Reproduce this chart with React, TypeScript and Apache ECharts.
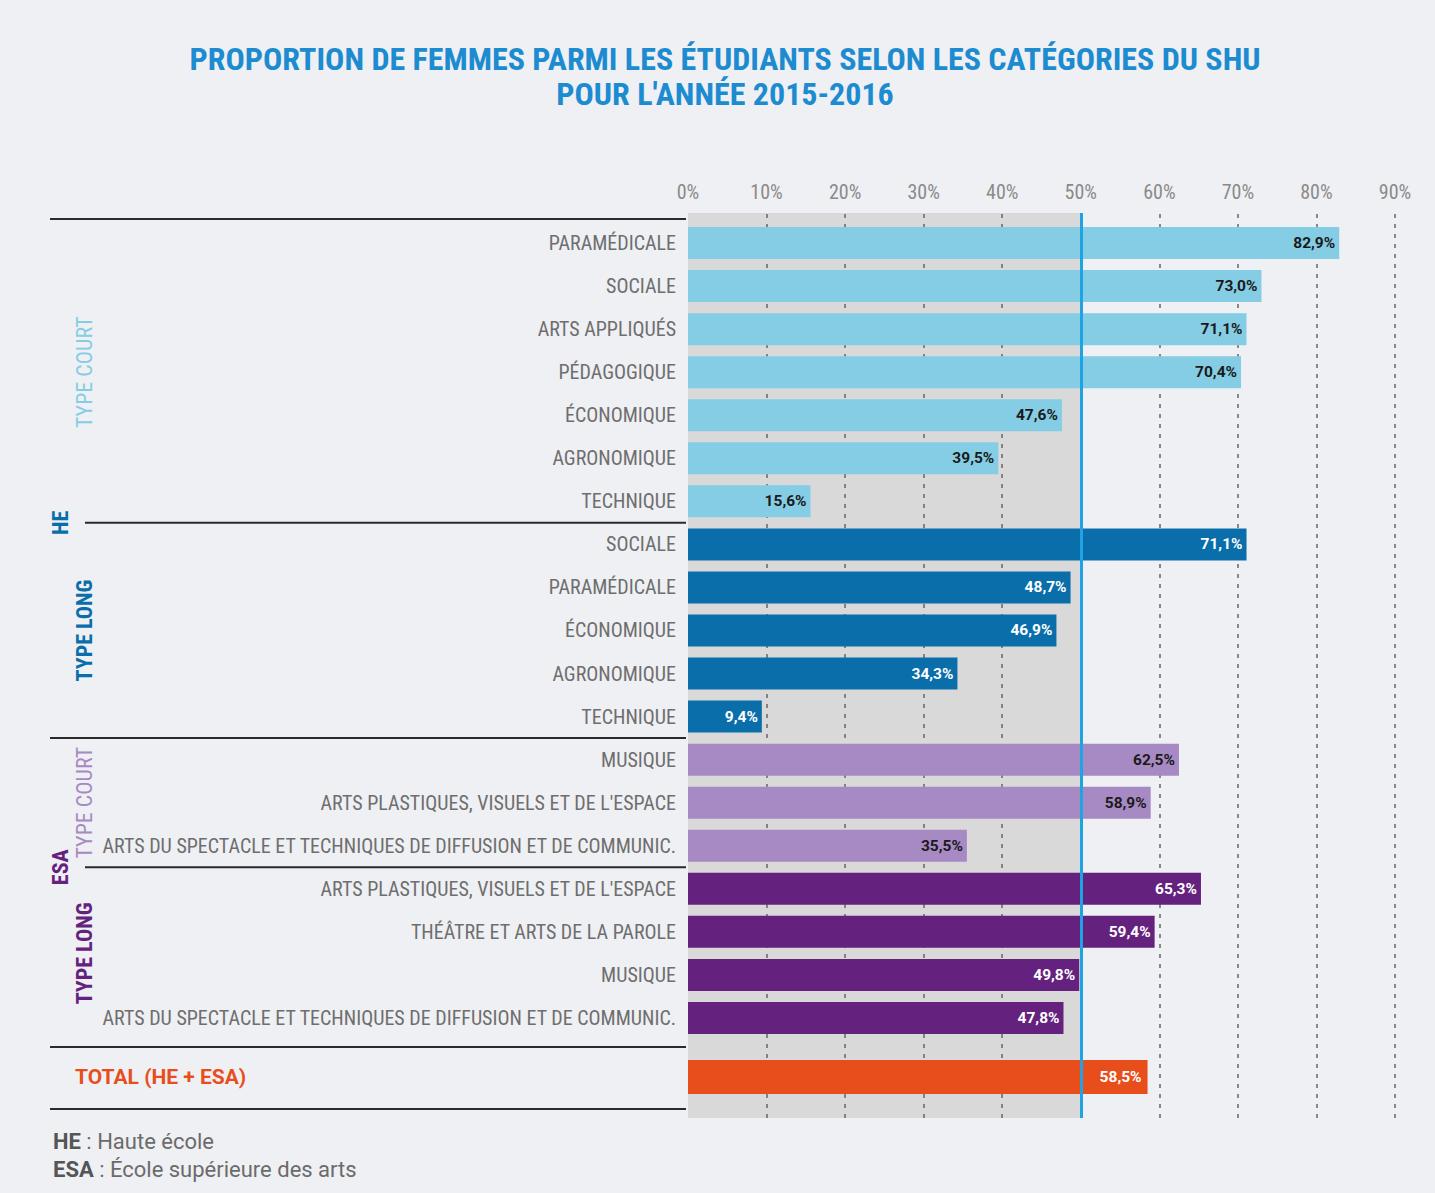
import React, { useEffect, useRef } from "react";
import * as echarts from "echarts";

// ---------- DATA ----------
const heCourtCats = ["PARAMÉDICALE", "SOCIALE", "ARTS APPLIQUÉS", "PÉDAGOGIQUE", "ÉCONOMIQUE", "AGRONOMIQUE", "TECHNIQUE"];
const heCourtVals = [82.9, 73.0, 71.1, 70.4, 47.6, 39.5, 15.6];
const heLongCats = ["SOCIALE", "PARAMÉDICALE", "ÉCONOMIQUE", "AGRONOMIQUE", "TECHNIQUE"];
const heLongVals = [71.1, 48.7, 46.9, 34.3, 9.4];
const esaCourtCats = ["MUSIQUE", "ARTS PLASTIQUES, VISUELS ET DE L'ESPACE", "ARTS DU SPECTACLE ET TECHNIQUES DE DIFFUSION ET DE COMMUNIC."];
const esaCourtVals = [62.5, 58.9, 35.5];
const esaLongCats = ["ARTS PLASTIQUES, VISUELS ET DE L'ESPACE", "THÉÂTRE ET ARTS DE LA PAROLE", "MUSIQUE", "ARTS DU SPECTACLE ET TECHNIQUES DE DIFFUSION ET DE COMMUNIC."];
const esaLongVals = [65.3, 59.4, 49.8, 47.8];
const totalCats = ["TOTAL (HE + ESA)"];
const totalVals = [58.5];
const gridLineValues = [10, 20, 30, 40, 50, 60, 70, 80, 90];
const referenceValue = 50;

const titleText = "PROPORTION DE FEMMES PARMI LES ÉTUDIANTS SELON LES CATÉGORIES DU SHU\nPOUR L'ANNÉE 2015-2016";

// ---------- STYLE ----------
const FONT = "'Liberation Sans Narrow', 'Roboto Condensed', Roboto, sans-serif";
const FONT_WIDE = "Roboto, 'Noto Sans', sans-serif";
const BG = "#eef0f4";
const BAND = "#d9d9d9";
const C_LIGHT_BLUE = "#85cde4";
const C_DARK_BLUE = "#0a6eab";
const C_LIGHT_PURPLE = "#a78ac3";
const C_DARK_PURPLE = "#65217e";
const C_ORANGE = "#e84e1b";
const LABEL_GRAY = "#6e6e6e";

const PLOT_LEFT = 688;
const PLOT_WIDTH = 707;
const ROW_TOP = 221.5;
const ROW_H = 43.05;
const BG_TOP = 213;
const BG_BOTTOM = 1118;

const groups = [
  { cats: heCourtCats, vals: heCourtVals, color: C_LIGHT_BLUE, text: "#1a1a1a" },
  { cats: heLongCats, vals: heLongVals, color: C_DARK_BLUE, text: "#ffffff" },
  { cats: esaCourtCats, vals: esaCourtVals, color: C_LIGHT_PURPLE, text: "#1a1a1a" },
  { cats: esaLongCats, vals: esaLongVals, color: C_DARK_PURPLE, text: "#ffffff" },
];

const allCats: string[] = [];
const allData: any[] = [];
groups.forEach((g) => {
  g.cats.forEach((c, i) => {
    allCats.push(c);
    allData.push({ value: g.vals[i], itemStyle: { color: g.color }, label: { color: g.text } });
  });
});
const nRows = allCats.length;

const fmt = (v: number) => v.toFixed(1).replace(".", ",") + "%";
const boundary = (i: number) => ROW_TOP + i * ROW_H;

export default function App() {
  const ref = useRef<HTMLDivElement>(null);
  useEffect(() => {
    if (!ref.current) return;
    const chart = echarts.init(ref.current, null, { renderer: "svg" });

    const sepLines = [
      { y: boundary(0) - 2.5, x1: 50 },
      { y: boundary(7), x1: 85 },
      { y: boundary(12), x1: 50 },
      { y: boundary(15), x1: 85 },
      { y: 1047, x1: 50 },
      { y: 1109, x1: 50 },
    ].map((l) => ({
      type: "line",
      shape: { x1: l.x1, y1: l.y, x2: 686, y2: l.y },
      style: { stroke: "#2a2a2a", lineWidth: 2 },
      z: 10,
    }));

    const vText = (text: string, x: number, y: number, color: string, size: number, weight: string) => ({
      type: "text",
      x,
      y,
      rotation: Math.PI / 2,
      style: {
        text,
        fill: color,
        font: `${weight} ${size}px ${FONT}`,
        align: "center",
        verticalAlign: "middle",
      },
      z: 10,
    });

    const valueLabel = {
      show: true,
      position: "insideRight",
      distance: 4,
      fontFamily: FONT_WIDE,
      fontWeight: "bold",
      fontSize: 15.5,
      formatter: (p: any) => fmt(p.value),
    };

    const option: any = {
      animation: false,
      backgroundColor: BG,
      title: {
        text: titleText,
        left: 720,
        top: 36,
        textAlign: "center",
        textStyle: {
          fontFamily: FONT,
          fontWeight: "bold",
          fontSize: 32,
          lineHeight: 35,
          color: "#1d8bd0",
        },
      },
      grid: [
        { left: PLOT_LEFT, width: PLOT_WIDTH, top: BG_TOP, height: BG_BOTTOM - BG_TOP },
        { left: PLOT_LEFT, width: PLOT_WIDTH, top: ROW_TOP, height: ROW_H * nRows },
        { left: PLOT_LEFT, width: PLOT_WIDTH, top: 1056, height: 42 },
      ],
      xAxis: [
        {
          gridIndex: 0,
          type: "value",
          min: 0,
          max: 90,
          interval: 10,
          position: "top",
          axisLine: { show: false },
          axisTick: { show: false },
          splitLine: { show: false },
          axisLabel: {
            formatter: "{value}%",
            color: "#8a8a8a",
            fontFamily: FONT,
            fontSize: 20,
            margin: 11,
          },
        },
        { gridIndex: 1, type: "value", min: 0, max: 90, show: false },
        { gridIndex: 2, type: "value", min: 0, max: 90, show: false },
      ],
      yAxis: [
        { gridIndex: 0, type: "value", min: 0, max: 1, show: false },
        {
          gridIndex: 1,
          type: "category",
          inverse: true,
          data: allCats,
          axisLine: { show: false },
          axisTick: { show: false },
          axisLabel: {
            color: LABEL_GRAY,
            fontFamily: FONT,
            fontSize: 20,
            margin: 12,
          },
        },
        {
          gridIndex: 2,
          type: "category",
          data: totalCats,
          axisLine: { show: false },
          axisTick: { show: false },
          axisLabel: {
            align: "left",
            margin: PLOT_LEFT - 75,
            color: C_ORANGE,
            fontFamily: FONT_WIDE,
            fontWeight: "bold",
            fontSize: 21,
          },
        },
      ],
      series: [
        {
          type: "line",
          xAxisIndex: 0,
          yAxisIndex: 0,
          data: [],
          z: 1,
          markArea: {
            silent: true,
            z: 1,
            itemStyle: { color: BAND },
            data: [[{ xAxis: 0 }, { xAxis: referenceValue }]],
          },
          markLine: {
            silent: true,
            z: 2,
            symbol: ["none", "none"],
            label: { show: false },
            lineStyle: { color: "#666", type: [4, 6], width: 1.5 },
            data: gridLineValues.map((v) => ({ xAxis: v })),
          },
        },
        {
          type: "bar",
          xAxisIndex: 1,
          yAxisIndex: 1,
          barWidth: 32,
          z: 3,
          data: allData,
          label: valueLabel,
        },
        {
          type: "bar",
          xAxisIndex: 2,
          yAxisIndex: 2,
          barWidth: 34,
          z: 3,
          data: totalVals.map((v) => ({ value: v, itemStyle: { color: C_ORANGE } })),
          label: { ...valueLabel, color: "#ffffff", distance: 6 },
        },
        {
          type: "line",
          xAxisIndex: 0,
          yAxisIndex: 0,
          data: [],
          z: 6,
          markLine: {
            silent: true,
            z: 6,
            symbol: ["none", "none"],
            label: { show: false },
            lineStyle: { color: "#1ea3e3", type: "solid", width: 3 },
            data: [{ xAxis: referenceValue }],
          },
        },
      ],
      graphic: [
        ...sepLines,
        vText("TYPE COURT", 84, (boundary(0) + boundary(7)) / 2, C_LIGHT_BLUE, 22, "normal"),
        vText("HE", 60, boundary(7), C_DARK_BLUE, 22, "bold"),
        vText("TYPE LONG", 84, (boundary(7) + boundary(12)) / 2, C_DARK_BLUE, 22, "bold"),
        vText("TYPE COURT", 84, (boundary(12) + boundary(15)) / 2, C_LIGHT_PURPLE, 22, "normal"),
        vText("ESA", 60, boundary(15), C_DARK_PURPLE, 22, "bold"),
        vText("TYPE LONG", 84, (boundary(15) + boundary(19)) / 2, C_DARK_PURPLE, 22, "bold"),
        {
          type: "text",
          x: 53,
          y: 1141,
          style: {
            text: "{b|HE} : Haute école",
            rich: { b: { fontWeight: "bold", fill: "#555", fontSize: 22, fontFamily: FONT_WIDE } },
            fill: "#6b6b6b",
            font: `normal 22px ${FONT_WIDE}`,
            verticalAlign: "middle",
          },
        },
        {
          type: "text",
          x: 53,
          y: 1169,
          style: {
            text: "{b|ESA} : École supérieure des arts",
            rich: { b: { fontWeight: "bold", fill: "#555", fontSize: 22, fontFamily: FONT_WIDE } },
            fill: "#6b6b6b",
            font: `normal 22px ${FONT_WIDE}`,
            verticalAlign: "middle",
          },
        },
      ],
    };
    chart.setOption(option);
    return () => chart.dispose();
  }, []);
  return (
    <div
      ref={ref}
      style={{ position: "absolute", left: 0, top: 0, width: 1435, height: 1193 }}
    />
  );
}
